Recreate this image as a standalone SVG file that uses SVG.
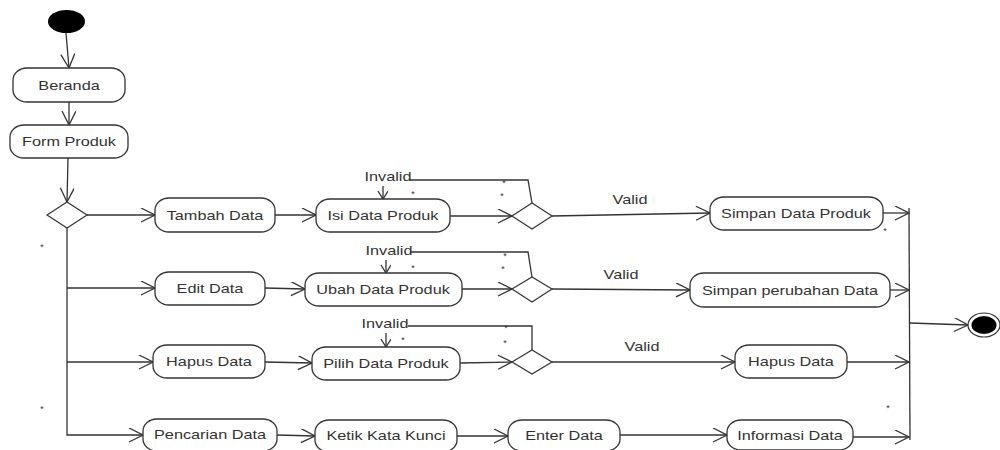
<svg xmlns="http://www.w3.org/2000/svg" width="1000" height="450" viewBox="0 0 1000 450">
<defs>
<style>
.n rect{fill:#fff;stroke:#333;stroke-width:1.3}
.n text,.lbl{font-family:"Liberation Sans",Arial,sans-serif;font-size:13px;fill:#333;text-anchor:middle}
.c path{fill:none;stroke:#333;stroke-width:1.3}
.d{fill:#fff;stroke:#333;stroke-width:1.2}
.st{font-family:"Liberation Sans",Arial,sans-serif;font-size:9px;fill:#333;text-anchor:middle}
</style>
<marker id="a" markerUnits="userSpaceOnUse" markerWidth="16" markerHeight="16" refX="15" refY="7" orient="auto">
<path d="M1,0 L15,7 L1,14" fill="none" stroke="#333" stroke-width="1.3"/>
</marker>
<marker id="s" markerUnits="userSpaceOnUse" markerWidth="12" markerHeight="12" refX="9" refY="5" orient="auto">
<path d="M1,0 L9,5 L1,10" fill="none" stroke="#333" stroke-width="1.3"/>
</marker>
</defs>
<rect width="1000" height="450" fill="#fff"/>

<g id="connectors" class="c">
<path d="M66,33 L69,68" marker-end="url(#a)"/>
<path d="M69,102 L69,125" marker-end="url(#a)"/>
<path d="M68,158 L67,202" marker-end="url(#a)"/>
<path d="M87,215 L155,215" marker-end="url(#a)"/>
<path d="M67,228 L67,435 L143,435" marker-end="url(#a)"/>
<path d="M67,288 L155,288" marker-end="url(#a)"/>
<path d="M67,362 L153,362" marker-end="url(#a)"/>
<path d="M275,215 L316,215" marker-end="url(#a)"/>
<path d="M265,288 L305,289" marker-end="url(#a)"/>
<path d="M265,362 L312,363" marker-end="url(#a)"/>
<path d="M277,435 L315,436" marker-end="url(#a)"/>
<path d="M450,216 L512,216" marker-end="url(#a)"/>
<path d="M462,289 L512,289" marker-end="url(#a)"/>
<path d="M460,363 L512,362" marker-end="url(#a)"/>
<path d="M457,436 L508,436" marker-end="url(#a)"/>
<path d="M620,435 L727,435" marker-end="url(#a)"/>
<path d="M552,216 L710,213" marker-end="url(#a)"/>
<path d="M552,289 L690,290" marker-end="url(#a)"/>
<path d="M552,362 L735,362" marker-end="url(#a)"/>
<path d="M883,213 L909,213" marker-end="url(#a)"/>
<path d="M890,290 L909,290" marker-end="url(#a)"/>
<path d="M847,362 L909,362" marker-end="url(#a)"/>
<path d="M853,437 L909,437" marker-end="url(#a)"/>
<path d="M909,208 L910,440"/>
<path d="M910,323 L968,325" marker-end="url(#a)"/>
<path d="M532,203 L528,180 L410,180"/>
<path d="M383,186 L383,199" marker-end="url(#s)"/>
<path d="M532,277 L528,252 L410,252"/>
<path d="M386,260 L386,273" marker-end="url(#s)"/>
<path d="M532,350 L532,326 L408,326"/>
<path d="M386,333 L386,347" marker-end="url(#s)"/>
</g>

<g id="labels">
<text class="lbl" transform="matrix(1.25 0 0 1 388 181)">Invalid</text>
<text class="lbl" transform="matrix(1.25 0 0 1 389 255)">Invalid</text>
<text class="lbl" transform="matrix(1.25 0 0 1 385 328)">Invalid</text>
<text class="lbl" transform="matrix(1.25 0 0 1 630 204)">Valid</text>
<text class="lbl" transform="matrix(1.25 0 0 1 621 279)">Valid</text>
<text class="lbl" transform="matrix(1.25 0 0 1 642 351)">Valid</text>
<text class="st" x="42" y="250">*</text>
<text class="st" x="42" y="412">*</text>
<text class="st" x="413" y="197">*</text>
<text class="st" x="504" y="186">*</text>
<text class="st" x="502" y="199">*</text>
<text class="st" x="413" y="271">*</text>
<text class="st" x="505" y="259">*</text>
<text class="st" x="503" y="272">*</text>
<text class="st" x="403" y="343">*</text>
<text class="st" x="506" y="331">*</text>
<text class="st" x="505" y="346">*</text>
<text class="st" x="885" y="234">*</text>
<text class="st" x="888" y="411">*</text>
</g>

<g id="start"><ellipse cx="66.5" cy="21.5" rx="18.5" ry="11.5" fill="#000"/></g>
<g id="end"><ellipse cx="984" cy="325" rx="16" ry="12" fill="#fff" stroke="#333" stroke-width="1.2"/><ellipse cx="984" cy="325" rx="12.5" ry="9" fill="#000"/></g>

<g id="dec1"><path class="d" d="M47,215 L67,202 L87,215 L67,228 Z"/></g>
<g id="dec2"><path class="d" d="M512,216 L532,203 L552,216 L532,229 Z"/></g>
<g id="dec3"><path class="d" d="M512,289 L532,277 L552,289 L532,302 Z"/></g>
<g id="dec4"><path class="d" d="M512,362 L532,350 L552,362 L532,374 Z"/></g>

<g id="beranda" class="n"><rect x="13" y="68" width="112" height="34" rx="14" ry="12"/><text transform="matrix(1.25 0 0 1 69 89.5)">Beranda</text></g>
<g id="formproduk" class="n"><rect x="10" y="125" width="118" height="33" rx="14" ry="12"/><text transform="matrix(1.25 0 0 1 69 146)">Form Produk</text></g>
<g id="tambah" class="n"><rect x="155" y="198" width="120" height="34" rx="14" ry="12"/><text transform="matrix(1.25 0 0 1 215 219.5)">Tambah Data</text></g>
<g id="isi" class="n"><rect x="316" y="199" width="134" height="33" rx="14" ry="12"/><text transform="matrix(1.25 0 0 1 383 220)">Isi Data Produk</text></g>
<g id="simpan" class="n"><rect x="710" y="197" width="173" height="33" rx="14" ry="12"/><text transform="matrix(1.25 0 0 1 796 218)">Simpan Data Produk</text></g>
<g id="edit" class="n"><rect x="155" y="272" width="110" height="33" rx="14" ry="12"/><text transform="matrix(1.25 0 0 1 210 293)">Edit Data</text></g>
<g id="ubah" class="n"><rect x="305" y="273" width="157" height="33" rx="14" ry="12"/><text transform="matrix(1.25 0 0 1 383 294)">Ubah Data Produk</text></g>
<g id="simpanubah" class="n"><rect x="690" y="273" width="200" height="34" rx="14" ry="12"/><text transform="matrix(1.25 0 0 1 790 294.5)">Simpan perubahan Data</text></g>
<g id="hapus" class="n"><rect x="153" y="345" width="112" height="33" rx="14" ry="12"/><text transform="matrix(1.25 0 0 1 209 366)">Hapus Data</text></g>
<g id="pilih" class="n"><rect x="312" y="347" width="148" height="33" rx="14" ry="12"/><text transform="matrix(1.25 0 0 1 386 368)">Pilih Data Produk</text></g>
<g id="hapus2" class="n"><rect x="735" y="345" width="112" height="33" rx="14" ry="12"/><text transform="matrix(1.25 0 0 1 791 366)">Hapus Data</text></g>
<g id="pencarian" class="n"><rect x="143" y="419" width="134" height="32" rx="14" ry="12"/><text transform="matrix(1.25 0 0 1 210 439)">Pencarian Data</text></g>
<g id="ketik" class="n"><rect x="315" y="420" width="142" height="32" rx="14" ry="12"/><text transform="matrix(1.25 0 0 1 386 440)">Ketik Kata Kunci</text></g>
<g id="enter" class="n"><rect x="508" y="420" width="112" height="31" rx="14" ry="12"/><text transform="matrix(1.25 0 0 1 564 440)">Enter Data</text></g>
<g id="informasi" class="n"><rect x="727" y="420" width="126" height="30" rx="14" ry="12"/><text transform="matrix(1.25 0 0 1 790 439.5)">Informasi Data</text></g>
</svg>
